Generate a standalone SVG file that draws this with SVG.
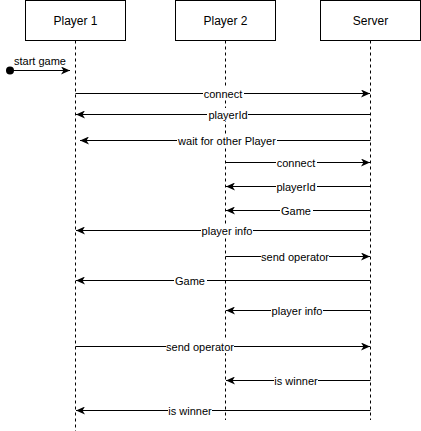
<svg xmlns="http://www.w3.org/2000/svg" width="421" height="431" viewBox="0 0 421 431">
<style>
.box{fill:#fff;stroke:#000;stroke-width:1}
.life{stroke:#000;stroke-width:1;stroke-dasharray:3,3;fill:none}
.msg{stroke:#000;stroke-width:1;fill:none;marker-end:url(#arr)}
.t{font-family:"Liberation Sans",Arial,sans-serif;font-size:11px;fill:#000;text-anchor:middle}
.bt{font-family:"Liberation Sans",Arial,sans-serif;font-size:12px;fill:#000;text-anchor:middle}
.bg{fill:#fff}
</style>
<defs>
<marker id="arr" markerWidth="10" markerHeight="8" refX="9" refY="4" orient="auto" markerUnits="userSpaceOnUse">
<path d="M0,0 L9,4 L0,8 L2.5,4 z" fill="#000"/>
</marker>
</defs>
<rect width="421" height="431" fill="#fff"/>
<g id="player1">
<rect class="box" x="25.5" y="0.5" width="100" height="40"/>
<text class="bt" x="75.5" y="25">Player 1</text>
<line class="life" x1="75.5" y1="40.5" x2="75.5" y2="431"/>
</g>
<g id="player2">
<rect class="box" x="175.5" y="0.5" width="100" height="40"/>
<text class="bt" x="225.5" y="25">Player 2</text>
<line class="life" x1="225.5" y1="40.5" x2="225.5" y2="420"/>
</g>
<g id="server">
<rect class="box" x="320.5" y="0.5" width="100" height="40"/>
<text class="bt" x="370.5" y="25">Server</text>
<line class="life" x1="370.5" y1="40.5" x2="370.5" y2="420"/>
</g>
<g id="connectors">
<circle cx="10" cy="70.5" r="4" fill="#000"/>
<line class="msg" x1="10" y1="70.5" x2="70" y2="70.5"/>
<text class="t" x="40" y="65">start game</text>

<line class="msg" x1="75.5" y1="93.5" x2="370" y2="93.5"/>
<line class="msg" x1="370.5" y1="114.5" x2="76" y2="114.5"/>
<line class="msg" x1="370.5" y1="140.5" x2="80" y2="140.5"/>
<line class="msg" x1="225.5" y1="162.5" x2="370" y2="162.5"/>
<line class="msg" x1="370.5" y1="186.5" x2="226" y2="186.5"/>
<line class="msg" x1="370.5" y1="210.5" x2="226" y2="210.5"/>
<line class="msg" x1="370.5" y1="230.5" x2="76" y2="230.5"/>
<line class="msg" x1="225.5" y1="256.5" x2="370" y2="256.5"/>
<line class="msg" x1="370.5" y1="280.5" x2="76" y2="280.5"/>
<line class="msg" x1="370.5" y1="310.5" x2="226" y2="310.5"/>
<line class="msg" x1="75.5" y1="346.5" x2="370" y2="346.5"/>
<line class="msg" x1="370.5" y1="380.5" x2="226" y2="380.5"/>
<line class="msg" x1="370.5" y1="410.5" x2="76" y2="410.5"/>

<rect class="bg" x="203" y="87" width="41" height="13"/>
<text class="t" x="223" y="97.5">connect</text>
<rect class="bg" x="207" y="108" width="41" height="13"/>
<text class="t" x="228" y="118.5">playerId</text>
<rect class="bg" x="177" y="134" width="100" height="13"/>
<text class="t" x="227" y="144.5">wait for other Player</text>
<rect class="bg" x="276" y="156" width="41" height="13"/>
<text class="t" x="296" y="166.5">connect</text>
<rect class="bg" x="276" y="180" width="41" height="13"/>
<text class="t" x="296" y="190.5">playerId</text>
<rect class="bg" x="280" y="204" width="33" height="13"/>
<text class="t" x="296" y="214.5">Game</text>
<rect class="bg" x="201" y="224" width="52" height="13"/>
<text class="t" x="227" y="234.5">player info</text>
<rect class="bg" x="261" y="250" width="68" height="13"/>
<text class="t" x="295" y="260.5">send operator</text>
<rect class="bg" x="174" y="274" width="33" height="13"/>
<text class="t" x="190" y="284.5">Game</text>
<rect class="bg" x="271" y="304" width="52" height="13"/>
<text class="t" x="297" y="314.5">player info</text>
<rect class="bg" x="166" y="340" width="68" height="13"/>
<text class="t" x="200" y="350.5">send operator</text>
<rect class="bg" x="274" y="374" width="44" height="13"/>
<text class="t" x="296" y="384.5">is winner</text>
<rect class="bg" x="168" y="404" width="44" height="13"/>
<text class="t" x="190" y="414.5">is winner</text>
</g>
</svg>
